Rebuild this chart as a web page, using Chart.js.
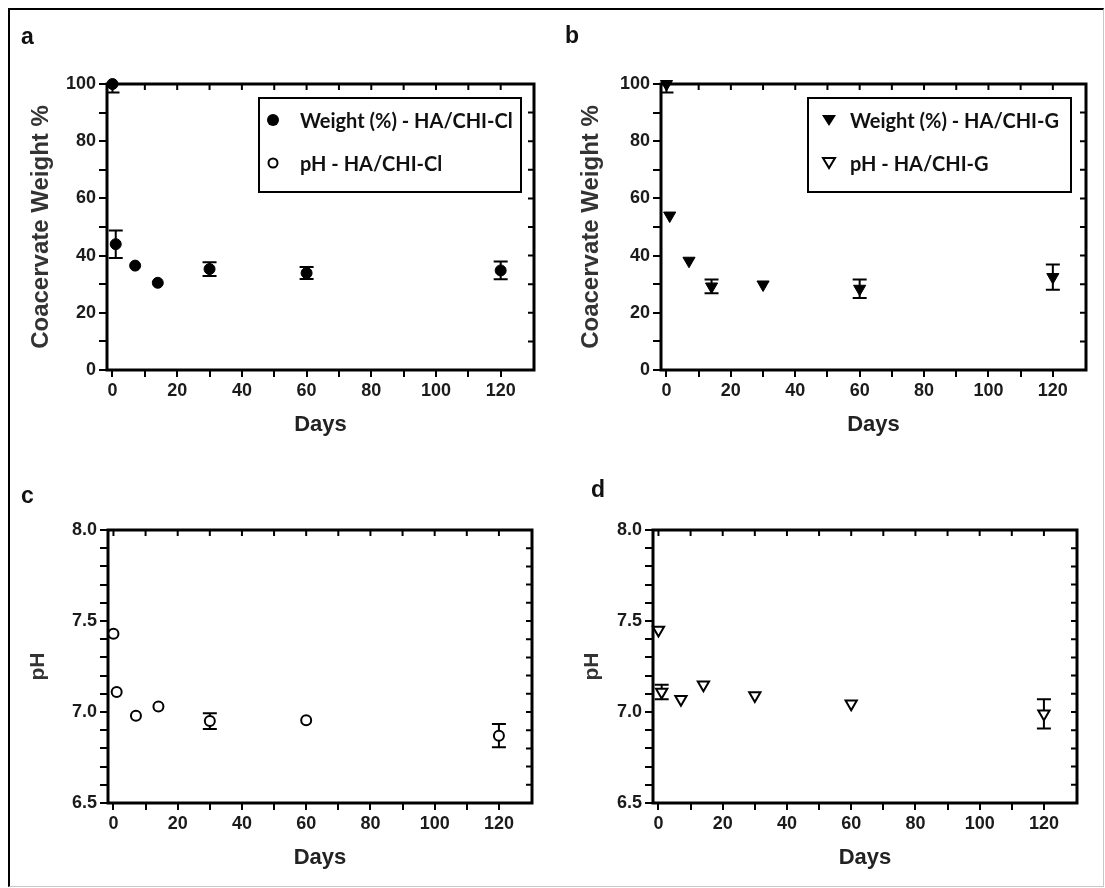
<!DOCTYPE html>
<html>
<head>
<meta charset="utf-8">
<script src="https://cdn.jsdelivr.net/npm/chart.js@4.4.1/dist/chart.umd.min.js"></script>
<style>
  body { margin: 0; background: #fff; }
  #page { position: relative; width: 1105px; height: 888px; overflow: hidden; font-family: 'Liberation Sans', Arial, sans-serif; }
  .panel { position: absolute; }
  .frame { position: absolute; left: 8px; top: 8px; width: 1093px; height: 876px;
    border-top: 2px solid #000; border-left: 2px solid #000;
    border-right: 1px solid #c8c8c8; border-bottom: 1px solid #c8c8c8; pointer-events: none; }
  .tag { position: absolute; font-weight: bold; font-size: 23px; line-height: 1; color: #111; }
  .legend { position: absolute; box-sizing: border-box; border: 2px solid #000; background: #fff;
    font-family: Lato, 'Liberation Sans', sans-serif; font-weight: bold; font-size: 20px; color: #111; }
  .row { position: absolute; left: 0; width: 100%; height: 24px; line-height: 24px; white-space: nowrap; }
  .row svg { position: absolute; top: 5px; }
  .row span { position: absolute; top: 0; }
</style>
</head>
<body>
<div id="page">
  <div class="panel" style="left:0;top:0;width:545px;height:445px"><canvas id="chartA"></canvas></div>
  <div class="panel" style="left:545px;top:0;width:560px;height:445px"><canvas id="chartB"></canvas></div>
  <div class="panel" style="left:0;top:445px;width:545px;height:443px"><canvas id="chartC"></canvas></div>
  <div class="panel" style="left:545px;top:445px;width:560px;height:443px"><canvas id="chartD"></canvas></div>

  <div class="frame"></div>
  <div class="tag" style="left:21px;top:25px">a</div>
  <div class="tag" style="left:565px;top:24px">b</div>
  <div class="tag" style="left:21px;top:484px">c</div>
  <div class="tag" style="left:591px;top:478px">d</div>

  <div class="legend" style="left:258px;top:97px;width:264px;height:96px">
    <div class="row" style="top:9px">
      <svg width="14" height="14" style="left:6px"><circle cx="7" cy="7" r="6" fill="#000"/></svg>
      <span style="left:40px">Weight (%) - HA/CHI-Cl</span>
    </div>
    <div class="row" style="top:52px">
      <svg width="14" height="14" style="left:6px"><circle cx="7" cy="7" r="4.5" fill="#fff" stroke="#000" stroke-width="2"/></svg>
      <span style="left:40px">pH - HA/CHI-Cl</span>
    </div>
  </div>
  <div class="legend" style="left:807px;top:97px;width:265px;height:96px">
    <div class="row" style="top:9px">
      <svg width="16" height="14" style="left:12px"><polygon points="1,2 15,2 8,13" fill="#000"/></svg>
      <span style="left:41px">Weight (%) - HA/CHI-G</span>
    </div>
    <div class="row" style="top:52px">
      <svg width="16" height="14" style="left:12px"><polygon points="2,2 14,2 8,12" fill="#fff" stroke="#000" stroke-width="2"/></svg>
      <span style="left:41px">pH - HA/CHI-G</span>
    </div>
  </div>
</div>

<script>
// sampling days (same for every panel)
const days = [0, 1, 7, 14, 30, 60, 120];

// coacervate weight %, mean and +/- error
const weightCl = [100, 44, 36.5, 30.5, 35.3, 33.9, 34.8];
const weightClErr = [3, 4.8, 0, 0, 2.4, 2.1, 3.1];
const weightG = [100, 54, 38.2, 29.2, 29.9, 28.4, 32.5];
const weightGErr = [3, 0, 0, 2.4, 0, 3.2, 4.4];

// pH, mean and +/- error
const phCl = [7.43, 7.11, 6.98, 7.03, 6.95, 6.955, 6.87];
const phClErr = [0, 0, 0, 0, 0.043, 0, 0.064];
const phG = [7.45, 7.11, 7.07, 7.15, 7.09, 7.045, 6.99];
const phGErr = [0, 0.04, 0, 0, 0, 0, 0.08];

// tick positions
const dayTicks = [0, 10, 20, 30, 40, 50, 60, 70, 80, 90, 100, 110, 120];
const weightTicks = [0, 10, 20, 30, 40, 50, 60, 70, 80, 90, 100];
const phTicks = [6.5, 6.6, 6.7, 6.8, 6.9, 7.0, 7.1, 7.2, 7.3, 7.4, 7.5, 7.6, 7.7, 7.8, 7.9, 8.0];

const tickFont = { family: "'Liberation Sans', Arial, sans-serif", size: 18, weight: 'bold' };

// box round the plot, inner ticks on top/right, and the error bars
const framePlugin = {
    id: 'frame',
    beforeDatasetsDraw(chart) {
        const { ctx, chartArea: a, scales: { x, y } } = chart;
        ctx.save();
        ctx.strokeStyle = '#000';
        ctx.lineWidth = 2;
        ctx.beginPath();
        x.ticks.forEach(t => {
            let px = x.getPixelForValue(t.value);
            ctx.moveTo(px, a.top);
            ctx.lineTo(px, a.top + 6);
        });
        y.ticks.forEach(t => {
            let py = y.getPixelForValue(t.value);
            ctx.moveTo(a.right - 6, py);
            ctx.lineTo(a.right, py);
        });
        ctx.stroke();
        ctx.lineWidth = 3;
        ctx.strokeRect(a.left, a.top, a.right - a.left, a.bottom - a.top);

        ctx.beginPath();
        ctx.rect(a.left, a.top, a.right - a.left, a.bottom - a.top);
        ctx.clip();
        ctx.lineWidth = 2;
        chart.data.datasets.forEach(ds => {
            if (!ds.errors) return;
            ds.data.forEach((p, i) => {
                let e = ds.errors[i];
                if (!e) return;
                let px = x.getPixelForValue(p.x);
                let top = y.getPixelForValue(p.y + e);
                let bot = y.getPixelForValue(p.y - e);
                ctx.beginPath();
                ctx.moveTo(px, top); ctx.lineTo(px, bot);
                ctx.moveTo(px - 7, top); ctx.lineTo(px + 7, top);
                ctx.moveTo(px - 7, bot); ctx.lineTo(px + 7, bot);
                ctx.stroke();
            });
        });
        ctx.restore();
    }
};

function makePanel(id, cfg) {
    return new Chart(document.getElementById(id), {
        type: 'scatter',
        data: {
            datasets: [{
                data: days.map((d, i) => ({ x: d, y: cfg.values[i] })),
                errors: cfg.errors,
                pointStyle: cfg.style,
                rotation: cfg.rotation,
                pointRadius: cfg.radius,
                borderWidth: cfg.border,
                borderColor: '#000',
                backgroundColor: cfg.fill,
                clip: false
            }]
        },
        options: {
            responsive: true,
            maintainAspectRatio: false,
            animation: false,
            layout: { padding: cfg.padding },
            plugins: { legend: { display: false }, tooltip: { enabled: false } },
            scales: {
                x: {
                    type: 'linear',
                    min: -1.7,
                    max: 130.3,
                    afterBuildTicks: axis => { axis.ticks = dayTicks.map(v => ({ value: v })); },
                    afterFit: axis => { axis.height = cfg.xHeight; },
                    border: { display: false },
                    grid: { drawOnChartArea: false, color: '#000', lineWidth: 2, tickLength: 7 },
                    ticks: {
                        autoSkip: false, maxRotation: 0, padding: 3, color: '#1b1b1b', font: tickFont,
                        callback: v => (v % 20 === 0 ? v : '')
                    },
                    title: {
                        display: true, text: 'Days', color: '#222',
                        font: { family: "'Liberation Sans', Arial, sans-serif", size: 22, weight: 'bold', lineHeight: 1 },
                        padding: { top: 0, bottom: cfg.daysPad }
                    }
                },
                y: {
                    type: 'linear',
                    min: cfg.yMin,
                    max: cfg.yMax,
                    afterBuildTicks: axis => { axis.ticks = cfg.yTicks.map(v => ({ value: v })); },
                    afterFit: axis => { axis.width = cfg.yWidth; },
                    border: { display: false },
                    grid: { drawOnChartArea: false, color: '#000', lineWidth: 2, tickLength: 8 },
                    ticks: { autoSkip: false, padding: 3, color: '#1b1b1b', font: tickFont, callback: cfg.yLabel },
                    title: {
                        display: true, text: cfg.yTitle, color: '#333',
                        font: { family: "'Liberation Sans', Arial, sans-serif", size: cfg.yTitleSize, weight: 'bold', lineHeight: 1 },
                        padding: { top: cfg.yTitlePad, bottom: 0 }
                    }
                }
            }
        },
        plugins: [framePlugin]
    });
}

const weightLabel = v => (v % 20 === 0 ? v : '');
const phLabel = v => (Math.abs(v * 2 - Math.round(v * 2)) < 1e-6 ? v.toFixed(1) : '');

makePanel('chartA', {
    values: weightCl, errors: weightClErr, style: 'circle', rotation: 0, radius: 5.5, border: 1, fill: '#000',
    padding: { top: 84, right: 11, left: 0, bottom: 0 }, yWidth: 107, xHeight: 75, daysPad: 9,
    yMin: 0, yMax: 100, yTicks: weightTicks, yLabel: weightLabel,
    yTitle: 'Coacervate Weight %', yTitleSize: 24, yTitlePad: 29
});
makePanel('chartB', {
    values: weightG, errors: weightGErr, style: 'triangle', rotation: 180, radius: 7, border: 1, fill: '#000',
    padding: { top: 84, right: 19, left: 0, bottom: 0 }, yWidth: 116, xHeight: 75, daysPad: 9,
    yMin: 0, yMax: 100, yTicks: weightTicks, yLabel: weightLabel,
    yTitle: 'Coacervate Weight %', yTitleSize: 24, yTitlePad: 34
});
makePanel('chartC', {
    values: phCl, errors: phClErr, style: 'circle', rotation: 0, radius: 5, border: 2, fill: '#fff',
    padding: { top: 85, right: 13, left: 0, bottom: 0 }, yWidth: 108, xHeight: 85, daysPad: 19,
    yMin: 6.5, yMax: 8.0, yTicks: phTicks, yLabel: phLabel,
    yTitle: 'pH', yTitleSize: 21, yTitlePad: 28
});
makePanel('chartD', {
    values: phG, errors: phGErr, style: 'triangle', rotation: 180, radius: 6.5, border: 2, fill: '#fff',
    padding: { top: 85, right: 28, left: 0, bottom: 0 }, yWidth: 108, xHeight: 85, daysPad: 19,
    yMin: 6.5, yMax: 8.0, yTicks: phTicks, yLabel: phLabel,
    yTitle: 'pH', yTitleSize: 21, yTitlePad: 37
});
</script>
</body>
</html>
